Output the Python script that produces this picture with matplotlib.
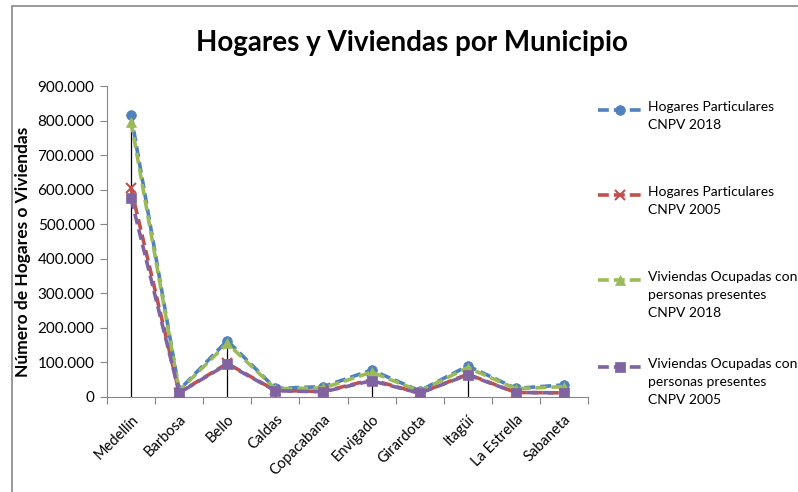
import matplotlib
matplotlib.use("Agg")
import matplotlib.pyplot as plt
from matplotlib.lines import Line2D
from matplotlib.patches import Rectangle
from matplotlib.ticker import FuncFormatter, MultipleLocator
import numpy as np

plt.rcParams['font.family'] = ['Lato', 'DejaVu Sans']

municipios = ["Medellín", "Barbosa", "Bello", "Caldas", "Copacabana", "Envigado",
              "Girardota", "Itagüí", "La Estrella", "Sabaneta"]
hogares_2018 = [816000, 20000, 163000, 25000, 30000, 78000, 18000, 90000, 25000, 35000]
hogares_2005 = [604000, 13000, 97000, 19000, 16000, 50000, 11000, 66000, 13000, 12000]
viviendas_2018 = [797000, 18000, 155000, 24000, 26000, 72000, 17000, 85000, 24000, 30000]
viviendas_2005 = [575000, 12000, 95000, 18000, 15000, 47000, 11000, 64000, 13000, 12000]
labels = ["Hogares Particulares\nCNPV 2018",
          "Hogares Particulares\nCNPV 2005",
          "Viviendas Ocupadas con\npersonas presentes\nCNPV 2018",
          "Viviendas Ocupadas con\npersonas presentes\nCNPV 2005"]

W, H = 798, 492
fig = plt.figure(figsize=(W / 100, H / 100), dpi=100)
ax = fig.add_axes([107 / W, 1 - 397 / H, (588 - 107) / W, (397 - 86) / H])

x = np.arange(len(municipios))
series = [hogares_2018, hogares_2005, viviendas_2018, viviendas_2005]
colors = ["#4F81BD", "#C0504D", "#9BBB59", "#8064A2"]
markers = ["o", "x", "^", "s"]
msizes = [7, 7, 7, 7]
dash = (0, (3, 1.4))

# drop lines
tops = np.max(np.array(series), axis=0)
ax.vlines(x, 0, tops, color="black", lw=0.9, zorder=1)

for s, c, m, ms in zip(series, colors, markers, msizes):
    ax.plot(x, s, color=c, lw=2.6, linestyle=dash, marker=m, markersize=ms,
            markeredgewidth=1.5 if m == "x" else 0.5, markeredgecolor=c,
            zorder=3)

ax.set_xlim(-0.5, len(municipios) - 0.5)
ax.set_ylim(0, 900000)
ax.yaxis.set_major_locator(MultipleLocator(100000))
ax.yaxis.set_major_formatter(FuncFormatter(lambda v, p: f"{int(v):,}".replace(",", ".")))

ax.set_xticks(x)
ax.set_xticklabels(municipios, rotation=45, ha="right", rotation_mode="anchor", fontsize=10.5)
ax.set_xticks(np.arange(-0.5, len(municipios)), minor=True)
ax.tick_params(axis="x", which="major", length=0, pad=11)
ax.tick_params(axis="x", which="minor", length=5, color="#868686", width=0.8)
ax.tick_params(axis="y", length=5, color="#868686", width=0.8, labelsize=11, pad=4)

for sp in ["top", "right"]:
    ax.spines[sp].set_visible(False)
for sp in ["left", "bottom"]:
    ax.spines[sp].set_color("#868686")
    ax.spines[sp].set_linewidth(0.8)

fig.text(412 / W, 1 - 43 / H, "Hogares y Viviendas por Municipio", ha="center", va="center",
         fontsize=20, fontweight="bold")
fig.text(23 / W, 1 - 252 / H, "Número de Hogares o Viviendas", ha="center", va="center",
         rotation=90, fontsize=12.5, fontweight="bold")

# legend (manual, handle aligned with first text line)
leg_y = [110, 195, 280, 367]
for yy, c, m, ms, lab in zip(leg_y, colors, markers, msizes, labels):
    yf = 1 - yy / H
    fig.add_artist(Line2D([598 / W, 642 / W], [yf, yf], transform=fig.transFigure,
                          color=c, lw=2.6, linestyle=dash))
    fig.add_artist(Line2D([620 / W], [yf], transform=fig.transFigure, color=c,
                          marker=m, markersize=ms, markeredgecolor=c,
                          markeredgewidth=1.5 if m == "x" else 0.5, linestyle="none"))
    fig.text(648 / W, yf + 9 / H, lab, ha="left", va="top", fontsize=10,
             linespacing=1.6)

fig.add_artist(Rectangle((12 / W, -0.1), 2, 1 - 6 / H + 0.1, transform=fig.transFigure,
                         fill=False, edgecolor="#888888", lw=1.2, clip_on=False))

fig.savefig("out.png", dpi=100)
